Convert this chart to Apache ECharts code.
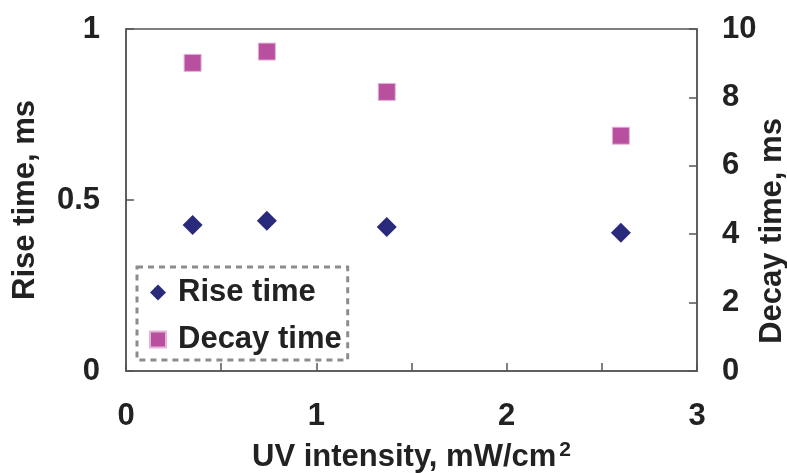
<!DOCTYPE html>
<html>
<head>
<meta charset="utf-8">
<script src="https://cdn.jsdelivr.net/npm/echarts@6/dist/echarts.min.js"></script>
<style>
  html, body { margin: 0; padding: 0; background: #fff; }
  #chart { width: 787px; height: 473px; }
</style>
</head>
<body>
<div id="chart"></div>
<script>
// UV intensity (mW/cm2)
var uvIntensity = [0.35, 0.74, 1.37, 2.6];
// rise time, ms (left axis)
var riseTime = [0.427, 0.439, 0.421, 0.404];
// decay time, ms (right axis)
var decayTime = [9.01, 9.34, 8.16, 6.88];

var xTicks = [0, 1, 2, 3];
var leftTicks = [0, 0.5, 1];

var riseData = [];
var decayData = [];
for (var i = 0; i < uvIntensity.length; i++) {
    riseData.push([uvIntensity[i], riseTime[i]]);
    decayData.push([uvIntensity[i], decayTime[i]]);
}

var font = '"Liberation Sans", Arial, sans-serif';
var txt = { fontFamily: font, fontWeight: 'bold', fontSize: 31, color: '#222' };
var lineCol = '#555';

var myChart = echarts.init(document.getElementById('chart'));
var option = {
    animation: false,
    textStyle: { fontFamily: font },
    grid: {
        left: 126, right: 90, top: 29, bottom: 102,
        outerBoundsMode: 'none',
        containLabel: false,
        show: true, borderColor: lineCol, borderWidth: 1.5
    },
    legend: {
        orient: 'vertical',
        left: 137, top: 267,
        padding: [10, 6, 5, 12],
        itemGap: 16,
        itemWidth: 16, itemHeight: 16,
        borderColor: '#8c8c8c',
        borderWidth: 3,
        borderType: [6, 5],
        textStyle: Object.assign({}, txt, { padding: [0, 0, 0, 7] }),
        data: [
            { name: 'Rise time', icon: 'diamond' },
            { name: 'Decay time', icon: 'rect' }
        ]
    },
    xAxis: {
        type: 'value',
        min: 0, max: 3, interval: 0.5,
        name: 'UV intensity, mW/cm{sup|2}',
        nameLocation: 'middle',
        nameGap: 69,
        nameTextStyle: Object.assign({}, txt, {
            rich: { sup: { fontFamily: font, fontWeight: 'bold', fontSize: 21, color: '#222', padding: [0, 0, 14, 3] } }
        }),
        axisLine: { show: true, lineStyle: { color: lineCol, width: 1.5 } },
        axisTick: { show: true, inside: true, length: 8, lineStyle: { color: lineCol, width: 1.5 } },
        splitLine: { show: false },
        axisLabel: Object.assign({}, txt, {
            margin: 30,
            formatter: function (v) { return xTicks.indexOf(v) >= 0 ? String(v) : ''; }
        })
    },
    yAxis: [
        {
            type: 'value',
            position: 'left',
            min: 0, max: 1, interval: 0.5,
            name: 'Rise time, ms',
            nameLocation: 'middle',
            nameGap: 85,
            nameTextStyle: txt,
            axisLine: { show: true, lineStyle: { color: lineCol, width: 1.5 } },
            axisTick: { show: true, inside: true, length: 8, lineStyle: { color: lineCol, width: 1.5 } },
            splitLine: { show: false },
            axisLabel: Object.assign({}, txt, {
                margin: 26,
                formatter: function (v) { return leftTicks.indexOf(v) >= 0 ? String(v) : ''; }
            })
        },
        {
            type: 'value',
            position: 'right',
            min: 0, max: 10, interval: 2,
            name: 'Decay time, ms',
            nameLocation: 'middle',
            nameGap: 60,
            nameMoveOverlap: false,
            nameTextStyle: Object.assign({}, txt, { padding: [0, 62, 0, 0] }),
            axisLine: { show: true, lineStyle: { color: lineCol, width: 1.5 } },
            axisTick: { show: true, inside: true, length: 8, lineStyle: { color: lineCol, width: 1.5 } },
            splitLine: { show: false },
            axisLabel: Object.assign({}, txt, { margin: 25 })
        }
    ],
    series: [
        {
            name: 'Rise time',
            type: 'scatter',
            symbol: 'diamond',
            symbolSize: 20,
            yAxisIndex: 0,
            itemStyle: { color: '#2a2a7c', opacity: 1 },
            data: riseData
        },
        {
            name: 'Decay time',
            type: 'scatter',
            symbol: 'rect',
            symbolSize: 17,
            yAxisIndex: 1,
            itemStyle: { color: '#b8509f', borderColor: '#e6b3d9', borderWidth: 1, opacity: 1 },
            data: decayData
        }
    ]
};
myChart.setOption(option);
</script>
</body>
</html>
